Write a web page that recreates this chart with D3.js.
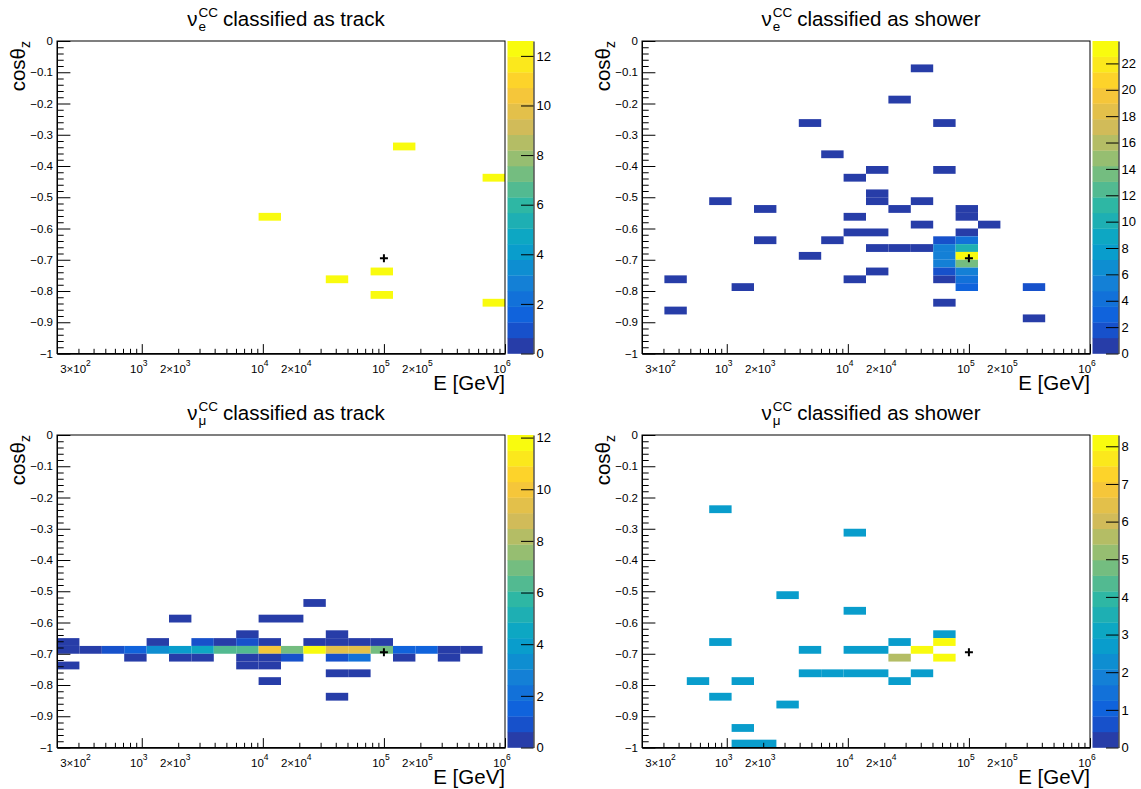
<!DOCTYPE html>
<html><head><meta charset="utf-8">
<script src="https://cdn.jsdelivr.net/npm/d3@7"></script>
<style>
body{margin:0;background:#fff}
svg{display:block}
text{font-family:"Liberation Sans",Arial,Helvetica,sans-serif;fill:#000}
</style>
</head><body>
<svg id="c" width="1141" height="789"></svg>
<script>
// ---------------- DATA ----------------
// Histogram binning: 20 log10(E) bins from 10^2.3 to 10^6 GeV, 40 cos(theta_z) bins from -1 to 0
const logEMin = 2.3, logEMax = 6.0, nBinsE = 20;
const cosMin = -1, cosMax = 0, nBinsCos = 40;

// panel titles: neutrino flavour subscript and classification
const flavours = ["e", "e", "\u03bc", "\u03bc"];
const classes = ["classified as track", "classified as shower", "classified as track", "classified as shower"];

// bin contents: [E bin (1..20), cos bin (1..40, from cos=-1 upward), weighted content]
const nueTrack = [
  [10,18,12.6],[16,27,12.6],[20,23,12.6],[15,11,12.6],[13,10,12.6],[15,8,12.6],[20,7,12.6]
];
const nueShower = [
  [13,37,1],[12,33,1],[8,30,1],[14,30,1],[9,26,1],[11,24,1],[14,24,1],[10,23,1],
  [11,21,1],[11,20,1],[4,20,1],[13,20,1],[6,19,1],[12,19,1],[15,19,1],[15,18,1],
  [10,18,1],[13,17,1],[16,17,1],[10,16,1],[11,16,1],[15,16,1],[6,15,1],[9,15,1],
  [11,14,1],[12,14,1],[13,14,1],[8,13,1],[11,11,1],[2,10,1],[10,10,1],[14,10,1],
  [5,9,1],[14,7,1],[2,6,1],[18,5,1],
  [14,15,2.0],[15,15,4.5],[14,14,5.5],[15,14,10.5],[14,13,5.5],[15,13,23.7],
  [14,12,5.5],[15,12,13.5],[14,11,2.3],[15,11,5.5],[15,10,4.0],[15,9,3.0],[18,9,2.0]
];
const numuTrack = [
  [12,19,0.5],[6,17,0.5],[10,17,0.5],[11,17,0.5],[9,15,0.5],[13,15,0.5],
  [1,14,0.5],[5,14,0.5],[7,14,0.9],[8,14,0.5],[9,14,1.0],[10,14,0.5],[12,14,0.5],[13,14,0.5],[14,14,0.5],[15,14,0.5],
  [1,13,0.5],[2,13,0.5],[3,13,0.9],[4,13,1.5],[5,13,3.4],[6,13,4.0],[7,13,4.5],[8,13,6.3],[9,13,6.4],
  [10,13,9.9],[11,13,7.0],[12,13,12.1],[13,13,9.3],[14,13,9.3],[15,13,7.0],[16,13,1.5],[17,13,1.5],[18,13,0.5],[19,13,0.5],
  [4,12,0.5],[6,12,0.5],[7,12,0.5],[9,12,0.5],[10,12,0.5],[11,12,1.0],[13,12,1.0],[14,12,2.0],[16,12,0.5],[18,12,0.5],
  [1,11,0.5],[9,11,0.5],[10,11,0.5],[13,10,0.5],[14,10,0.5],[10,9,0.5],[13,7,0.5]
];
const numuShower = [
  [4,31,2.77],[10,28,2.77],[7,20,2.77],[10,18,2.77],[14,15,2.77],[14,14,8.3],[4,14,2.77],[12,14,2.77],
  [8,13,2.77],[10,13,2.77],[11,13,2.77],[13,13,8.3],[12,12,5.54],[14,12,8.3],
  [8,10,2.77],[9,10,2.77],[10,10,2.77],[11,10,2.77],[13,10,2.77],
  [3,9,2.77],[5,9,2.77],[12,9,2.77],[4,7,2.77],[7,6,2.77],[5,3,2.77],[5,1,2.77],[6,1,2.77]
];
const panelData = [nueTrack, nueShower, numuTrack, numuShower];

// colour-axis maxima and tick values
const zMax = [12.6, 23.7, 12.1, 8.3];
const zTicks = [
  [0,2,4,6,8,10,12],
  [0,2,4,6,8,10,12,14,16,18,20,22],
  [0,2,4,6,8,10,12],
  [0,1,2,3,4,5,6,7,8]
];
const nContours = 20;

// axis ticks and labels
const cosMajor = [-1,-0.9,-0.8,-0.7,-0.6,-0.5,-0.4,-0.3,-0.2,-0.1,0];
const eMajor = [1e3, 1e4, 1e5, 1e6];
const eLabels = [[300,"3\u00d710","2"],[1e3,"10","3"],[2e3,"2\u00d710","3"],[1e4,"10","4"],
                 [2e4,"2\u00d710","4"],[1e5,"10","5"],[2e5,"2\u00d710","5"],[1e6,"10","6"]];
const markerE = 1e5, markerCos = -0.695;

// ---------------- PALETTE (ROOT kBird) ----------------
const birdStops = [0,0.125,0.25,0.375,0.5,0.625,0.75,0.875,1];
const birdR = [0.2082,0.0592,0.0780,0.0232,0.1802,0.5301,0.8186,0.9956,0.9764];
const birdG = [0.1664,0.3599,0.5041,0.6419,0.7178,0.7492,0.7328,0.7862,0.9832];
const birdB = [0.5293,0.8684,0.8385,0.7914,0.6425,0.4662,0.3499,0.1968,0.0539];
const birdScale = d3.scaleLinear().domain(birdStops)
  .range(birdStops.map((s,i)=>d3.rgb(birdR[i]*255,birdG[i]*255,birdB[i]*255)))
  .interpolate(d3.interpolateRgb);
function bandColor(i){
  const p = Math.floor((i+0.99)*255/nContours);
  return birdScale(Math.min(p,254)/254);
}

// ---------------- LAYOUT ----------------
const layouts = [
  {x0:57,  x1:505,  y0:41,  y1:353.5},
  {x0:642, x1:1090, y0:41,  y1:353.5},
  {x0:57,  x1:505,  y0:435, y1:747.5},
  {x0:642, x1:1090, y0:435, y1:747.5}
];
const svg = d3.select("#c");
const eEdge = i => Math.pow(10, logEMin + (logEMax-logEMin)*i/nBinsE);
const cosEdge = j => cosMin + (cosMax-cosMin)*j/nBinsCos;

layouts.forEach((L, p) => {
  const g = svg.append("g");
  const x = d3.scaleLog().domain([Math.pow(10,logEMin), Math.pow(10,logEMax)]).range([L.x0, L.x1]);
  const y = d3.scaleLinear().domain([cosMin, cosMax]).range([L.y1, L.y0]);
  const zm = zMax[p];
  const z = d3.scaleLinear().domain([0, zm]).range([L.y1, L.y0]);
  const band = v => Math.min(nContours-1, Math.floor(v/zm*nContours));

  // bins
  g.append("g").selectAll("rect").data(panelData[p]).join("rect")
    .attr("x", d => x(eEdge(d[0]-1)))
    .attr("width", d => x(eEdge(d[0])) - x(eEdge(d[0]-1)))
    .attr("y", d => y(cosEdge(d[1])))
    .attr("height", d => y(cosEdge(d[1]-1)) - y(cosEdge(d[1])))
    .attr("fill", d => bandColor(band(d[2])));

  // frame
  g.append("rect").attr("x", L.x0).attr("y", L.y0).attr("width", L.x1-L.x0).attr("height", L.y1-L.y0)
    .attr("fill","none").attr("stroke","#000").attr("stroke-width",1);

  // y axis (ticks inward)
  const cosMinor = d3.range(0, 51).map(i => -1 + i*0.02).filter(v => Math.abs(Math.round(v*10)-v*10) > 1e-6);
  const yMaj = g.append("g").attr("transform",`translate(${L.x0},0)`)
    .call(d3.axisLeft(y).tickValues(cosMajor).tickSize(-13.4).tickSizeOuter(0).tickPadding(4)
      .tickFormat(v => v === 0 ? "0" : "\u2212" + d3.format("~g")(Math.abs(v))));
  const yMin = g.append("g").attr("transform",`translate(${L.x0},0)`)
    .call(d3.axisLeft(y).tickValues(cosMinor).tickSize(-6.7).tickSizeOuter(0).tickFormat(""));
  // x axis (ticks inward)
  const eMinor = [];
  for (let n = 2; n <= 5; n++) for (let m = 2; m <= 9; m++) { const v = m*Math.pow(10,n); if (v > Math.pow(10,logEMin)+1) eMinor.push(v); }
  const xMaj = g.append("g").attr("transform",`translate(0,${L.y1})`)
    .call(d3.axisBottom(x).tickValues(eMajor).tickSize(-9.4).tickSizeOuter(0).tickFormat(""));
  const xMin = g.append("g").attr("transform",`translate(0,${L.y1})`)
    .call(d3.axisBottom(x).tickValues(eMinor).tickSize(-4.7).tickSizeOuter(0).tickFormat(""));
  [yMaj,yMin,xMaj,xMin].forEach(a => {
    a.selectAll(".domain").attr("stroke","#000");
    a.selectAll(".tick line").attr("stroke","#000");
    a.attr("font-family", null).attr("font-size", null);
  });
  yMaj.selectAll("text").attr("font-size", 11.5).attr("fill","#000");

  // x tick labels with exponent
  const xl = g.append("g").selectAll("text").data(eLabels).join("text")
    .attr("x", d => x(d[0]) - 3).attr("y", L.y1 + 19)
    .attr("text-anchor","middle").attr("font-size", 11.5);
  xl.append("tspan").text(d => d[1]);
  xl.append("tspan").attr("dy", -7).attr("font-size", 8.5).text(d => d[2]);

  // axis titles
  g.append("text").attr("x", L.x1).attr("y", L.y1 + 36).attr("text-anchor","end")
    .attr("font-size", 20.5).text("E [GeV]");
  const yt = g.append("text").attr("transform",`translate(${L.x0-32.5},${L.y0}) rotate(-90)`)
    .attr("text-anchor","end").attr("font-size", 20.5);
  yt.append("tspan").text("cos\u03b8");
  yt.append("tspan").attr("dy", 5).attr("font-size", 14).text("z");

  // colour bar
  const cbx0 = L.x1 + 2.5, cbw = 26;
  g.append("g").selectAll("rect").data(d3.range(nContours)).join("rect")
    .attr("x", cbx0).attr("width", cbw)
    .attr("y", i => z((i+1)*zm/nContours))
    .attr("height", i => z(i*zm/nContours) - z((i+1)*zm/nContours) + 0.3)
    .attr("fill", i => bandColor(i));
  const za = g.append("g").attr("transform",`translate(${cbx0+cbw},0)`)
    .call(d3.axisRight(z).tickValues(zTicks[p]).tickSize(-12.5).tickSizeOuter(0).tickPadding(3));
  za.attr("font-family", null).attr("font-size", null);
  za.selectAll(".domain,.tick line").attr("stroke","#000");
  za.selectAll("text").attr("font-size", 13).attr("fill","#000");

  // true-value marker
  const mx = x(markerE), my = y(markerCos);
  g.append("path").attr("d", `M${mx-4},${my}H${mx+4}M${mx},${my-4}V${my+4}`)
    .attr("stroke","#000").attr("stroke-width",2);

  // title  nu_{flav}^{CC} classified as ...
  const tg = g.append("g");
  const nu = tg.append("text").attr("x",0).attr("y",0).attr("font-size",20.5).text("\u03bd");
  const w1 = nu.node().getComputedTextLength();
  const sup = tg.append("text").attr("x", w1+1).attr("y", -8.5).attr("font-size", 13.5).text("CC");
  const sub = tg.append("text").attr("x", w1+1).attr("y", 5.5).attr("font-size", 13.5).text(flavours[p]);
  const w2 = Math.max(sup.node().getComputedTextLength(), sub.node().getComputedTextLength());
  const rest = tg.append("text").attr("x", w1+1+w2+5).attr("y",0).attr("font-size",20.5).text(classes[p]);
  const W = w1+1+w2+5+rest.node().getComputedTextLength();
  tg.attr("transform", `translate(${(L.x0+L.x1)/2 + 5 - W/2},${L.y0-15.5})`);
});
</script>
</body></html>
